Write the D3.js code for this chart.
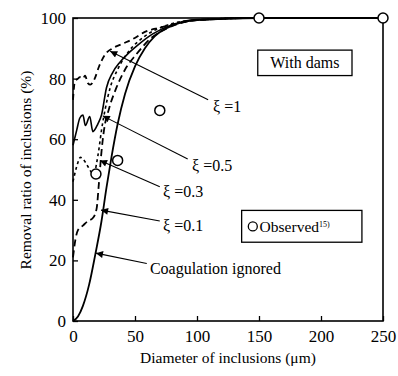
<!DOCTYPE html>
<html><head><meta charset="utf-8">
<script src="https://cdn.jsdelivr.net/npm/d3@7"></script>
<style>
body{margin:0;background:#fff;}
text{font-family:"Liberation Serif","Times New Roman",serif;fill:#000;}
</style></head>
<body><svg id="c" width="398" height="376"></svg>
<script>
// ---- data ----
const xTicks = [0, 50, 100, 150, 200, 250];
const yTicks = [0, 20, 40, 60, 80, 100];

const coagX = [0, 4, 8, 13, 18, 23, 27, 31, 36, 42, 50, 58, 66, 80, 100, 150, 250];
const coagY = [0, 1.5, 5, 12, 22, 33, 44, 54, 65, 75, 84, 90, 94, 97.5, 99.3, 100, 100];

const xi01X = [0, 2, 4, 8, 12, 16, 19, 21, 23, 25, 29, 35, 42, 51, 62, 78, 100, 150, 250];
const xi01Y = [21, 27, 30, 31.5, 33, 34, 37, 46, 56, 63, 70, 77, 83, 88, 93, 97, 99.3, 100, 100];

const xi03X = [0, 3, 6, 9, 12, 15, 17, 19, 21, 23, 26, 30, 36, 45, 58, 75, 100, 150, 250];
const xi03Y = [46, 51, 54, 53, 51, 49, 48.5, 52, 57, 63, 70, 77, 83, 89, 94, 97.5, 99.4, 100, 100];

const xi05X = [0, 3, 5.5, 8, 10, 13.5, 16, 20, 23, 27, 32, 38, 45, 52, 64, 80, 100, 150, 250];
const xi05Y = [58, 63, 67, 68, 64.5, 67.5, 62.5, 65, 68, 77, 82, 85.5, 88.5, 91, 94.7, 97.8, 99.5, 100, 100];

const xi1X = [0, 1.5, 4, 5.5, 8, 9.7, 12, 14, 17.5, 21, 26, 32, 40, 48, 58, 70, 85, 100, 150, 250];
const xi1Y = [73, 79, 80, 80.5, 80, 81, 78.5, 78, 80, 84, 88, 90, 91.5, 93, 95.4, 96.8, 98.3, 99.3, 100, 100];

const obsX = [18.5, 36, 70, 150, 250];
const obsY = [48.5, 53, 69.5, 100, 100];

// annotations: label text, label anchor (data), arrow start (data), arrow tip (data)
const annText = ["\u03BE =1", "\u03BE =0.5", "\u03BE =0.3", "\u03BE =0.1", "Coagulation ignored"];
const annLabelX = [113, 96, 72.6, 72.6, 62];
const annLabelY = [70.8, 51.2, 42.8, 31.7, 17.5];
const annFromX = [109, 92.5, 70, 70, 59.5];
const annFromY = [73, 53.5, 44.3, 33, 19];
const annToX = [30, 24, 21.8, 22.6, 18.5];
const annToY = [89, 67.7, 53, 36.6, 22.4];

// ---- drawing ----
const svg = d3.select("#c");
const x = d3.scaleLinear().domain([0, 250]).range([73, 383]);
const y = d3.scaleLinear().domain([0, 100]).range([321, 18]);

svg.append("defs").append("marker")
  .attr("id", "ah").attr("viewBox", "0 0 10 10").attr("refX", 10).attr("refY", 5)
  .attr("markerWidth", 10).attr("markerHeight", 7).attr("markerUnits", "userSpaceOnUse")
  .attr("orient", "auto")
  .append("path").attr("d", "M0,0 L10,5 L0,10 Z").attr("fill", "#000");

// axes
const gx = svg.append("g").attr("transform", `translate(0,${y(0)})`)
  .call(d3.axisBottom(x).tickValues(xTicks).tickSizeInner(-5).tickSizeOuter(0).tickPadding(9));
const gy = svg.append("g").attr("transform", `translate(${x(0)},0)`)
  .call(d3.axisLeft(y).tickValues(yTicks).tickSizeInner(-5).tickSizeOuter(0).tickPadding(7));
[gx, gy].forEach(g => {
  g.select(".domain").remove();
  g.selectAll("line").attr("stroke", "#000").attr("stroke-width", 1.3);
  g.selectAll("text").style("font-family", '"Liberation Serif",serif').style("font-size", "17px").attr("fill", "#000");
});

// frame
svg.append("rect").attr("x", x(0)).attr("y", y(100))
  .attr("width", x(250) - x(0)).attr("height", y(0) - y(100))
  .attr("fill", "none").attr("stroke", "#000").attr("stroke-width", 1.6);

// titles
svg.append("text").attr("x", 228).attr("y", 363).attr("text-anchor", "middle")
  .style("font-size", "15.5px").text("Diameter of inclusions (\u03BCm)");
svg.append("text").attr("transform", "translate(31,170) rotate(-90)").attr("text-anchor", "middle")
  .style("font-size", "15.5px").text("Removal ratio of inclusions (%)");

// curves
const line = d3.line().x(d => x(d[0])).y(d => y(d[1])).curve(d3.curveMonotoneX);
const series = [
  {xs: coagX, ys: coagY, dash: null, w: 1.8},
  {xs: xi01X, ys: xi01Y, dash: "7,4", w: 1.8},
  {xs: xi03X, ys: xi03Y, dash: "3,3", w: 1.6},
  {xs: xi05X, ys: xi05Y, dash: null, w: 1.6},
  {xs: xi1X, ys: xi1Y, dash: "6,4", w: 1.8}
];
series.forEach(s => {
  const pts = s.xs.map((v, i) => [v, s.ys[i]]);
  svg.append("path").attr("d", line(pts)).attr("fill", "none")
    .attr("stroke", "#000").attr("stroke-width", s.w)
    .attr("stroke-dasharray", s.dash);
});

// observed points
svg.selectAll("circle.obs").data(obsX.map((v, i) => [v, obsY[i]])).enter()
  .append("circle").attr("class", "obs")
  .attr("cx", d => x(d[0])).attr("cy", d => y(d[1])).attr("r", 5)
  .attr("fill", "#fff").attr("stroke", "#000").attr("stroke-width", 1.5);

// annotations
annText.forEach((t, i) => {
  svg.append("line")
    .attr("x1", x(annFromX[i])).attr("y1", y(annFromY[i]))
    .attr("x2", x(annToX[i])).attr("y2", y(annToY[i]))
    .attr("stroke", "#000").attr("stroke-width", 1.1)
    .attr("marker-end", "url(#ah)");
  svg.append("text").attr("x", x(annLabelX[i])).attr("y", y(annLabelY[i]))
    .attr("dy", "0.35em").style("font-size", "16px").text(t);
});

// "With dams" box
svg.append("rect").attr("x", x(149)).attr("y", y(89.4))
  .attr("width", x(225) - x(149)).attr("height", y(81) - y(89.4))
  .attr("fill", "#fff").attr("stroke", "#000").attr("stroke-width", 1.3);
svg.append("text").attr("x", (x(149) + x(225)) / 2).attr("y", y(85.2)).attr("dy", "0.35em")
  .attr("text-anchor", "middle").style("font-size", "16px").text("With dams");

// Observed legend box
svg.append("rect").attr("x", x(136)).attr("y", y(36.5))
  .attr("width", x(233) - x(136)).attr("height", y(26) - y(36.5))
  .attr("fill", "#fff").attr("stroke", "#000").attr("stroke-width", 1.3);
svg.append("circle").attr("cx", x(145)).attr("cy", y(31.2)).attr("r", 4.5)
  .attr("fill", "#fff").attr("stroke", "#000").attr("stroke-width", 1.3);
const lt = svg.append("text").attr("x", x(150.5)).attr("y", y(31.2)).attr("dy", "0.35em")
  .style("font-size", "15.5px");
lt.append("tspan").text("Observed");
lt.append("tspan").attr("dy", "-5").style("font-size", "8px").text("15)");
</script></body></html>
